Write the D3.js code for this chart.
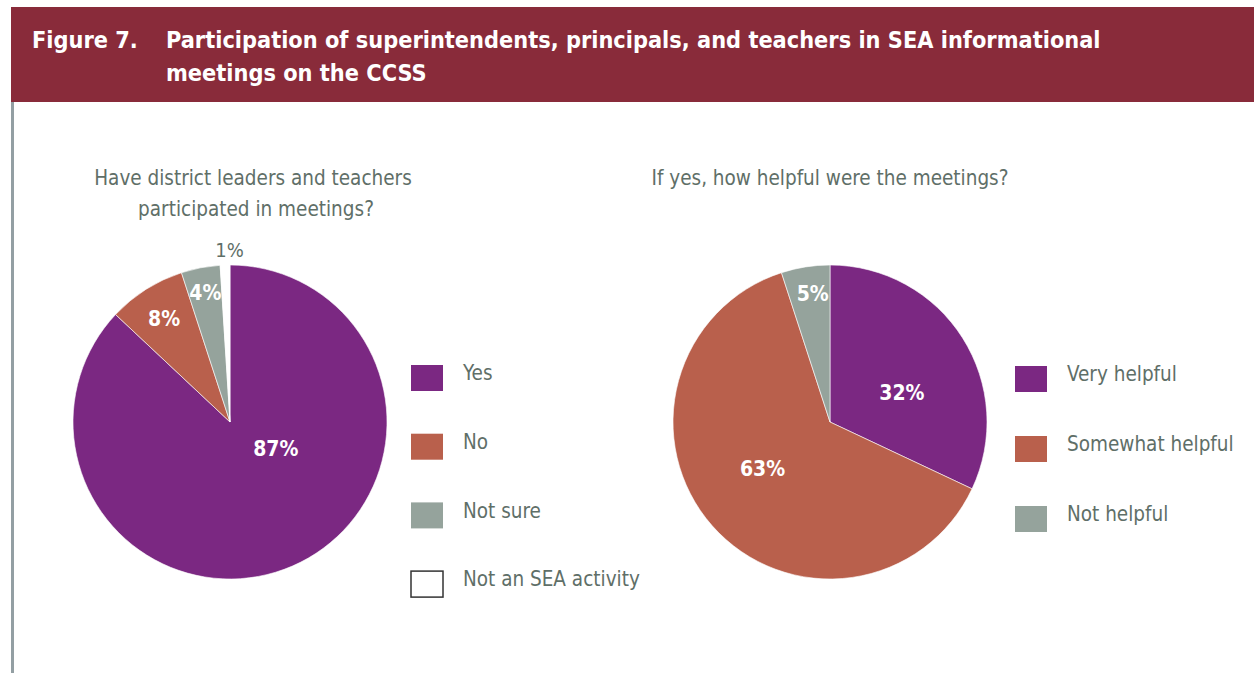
<!DOCTYPE html>
<html>
<head>
<meta charset="utf-8">
<script src="https://cdn.jsdelivr.net/npm/d3@7/dist/d3.min.js"></script>
<style>
  html, body { margin: 0; padding: 0; background: #fff; }
  svg { display: block; }
  text { font-family: "Liberation Sans Narrow", "DejaVu Sans Condensed", "Roboto", "Liberation Sans", sans-serif; }
</style>
</head>
<body>
<svg id="chart" width="1254" height="674"></svg>
<script>
// ---- data ----
const figureNumber = "Figure 7.";
const titleLines = ["Participation of superintendents, principals, and teachers in SEA informational", "meetings on the CCSS"];

const leftQuestion = ["Have district leaders and teachers", "participated in meetings?"];
const leftCategories = ["Yes", "No", "Not sure", "Not an SEA activity"];
const leftValues = [87, 8, 4, 1];

const rightQuestion = ["If yes, how helpful were the meetings?"];
const rightCategories = ["Very helpful", "Somewhat helpful", "Not helpful"];
const rightValues = [32, 63, 5];

// ---- styles ----
const PURPLE = "#7B2882", RUST = "#B9604C", SAGE = "#95A39C", WHITE = "#FFFFFF";
const TEXT = "#5F6F68", HEADER = "#892B3A";
const leftColors = [PURPLE, RUST, SAGE, WHITE];
const rightColors = [PURPLE, RUST, SAGE];
// label placement: radius along mid-angle + small nudge
const leftLabelStyle = [
  {r: 60, dx: 22, dy: -29, fill: "#fff", weight: "bold", size: 21},
  {r: 123, dx: 0, dy: 0, fill: "#fff", weight: "bold", size: 21},
  {r: 132, dx: 0, dy: 0, fill: "#fff", weight: "bold", size: 21},
  {r: 172, dx: 5, dy: 0, fill: TEXT, weight: "normal", size: 20}
];
const rightLabelStyle = [
  {r: 78, dx: 6, dy: 12, fill: "#fff", weight: "bold", size: 21},
  {r: 82, dx: -6, dy: -8, fill: "#fff", weight: "bold", size: 21},
  {r: 130, dx: 3, dy: 0, fill: "#fff", weight: "bold", size: 21}
];

const svg = d3.select("#chart");

// header band
svg.append("rect").attr("x", 11).attr("y", 7).attr("width", 1243).attr("height", 95).attr("fill", HEADER);
svg.append("text").attr("x", 32).attr("y", 48).attr("fill", "#fff")
  .attr("font-size", 23.3).attr("font-weight", "bold").text(figureNumber);
svg.append("g").selectAll("text").data(titleLines).join("text")
  .attr("x", 166).attr("y", (d, i) => 48 + i * 33)
  .attr("fill", "#fff").attr("font-size", 23.3).attr("font-weight", "bold")
  .text(d => d);

// left rule
svg.append("rect").attr("x", 11).attr("y", 102).attr("width", 3).attr("height", 571).attr("fill", "#939FA3");

function drawPie(cx, cy, radius, categories, values, colors, labelStyle, question, qx, legendX, legendY0, legendStep) {
  const g = svg.append("g").attr("transform", `translate(${cx},${cy})`);
  const pie = d3.pie().sort(null).value(d => d.v);
  const data = pie(categories.map((c, i) => ({c, v: values[i], i})));
  const arc = d3.arc().innerRadius(0).outerRadius(radius);

  g.selectAll("path").data(data).join("path")
    .attr("d", arc)
    .attr("fill", d => colors[d.data.i])
    .attr("stroke", "#fff").attr("stroke-width", 0.6);

  g.selectAll("text.pct").data(data).join("text")
    .attr("class", "pct")
    .attr("transform", d => {
      const s = labelStyle[d.data.i];
      const c = d3.arc().innerRadius(s.r).outerRadius(s.r).centroid(d);
      return `translate(${c[0] + s.dx},${c[1] + s.dy})`;
    })
    .attr("text-anchor", "middle").attr("dy", "0.36em")
    .attr("fill", d => labelStyle[d.data.i].fill)
    .attr("font-weight", d => labelStyle[d.data.i].weight)
    .attr("font-size", d => labelStyle[d.data.i].size)
    .text(d => d.data.v + "%");

  // question
  svg.append("g").selectAll("text").data(question).join("text")
    .attr("x", (d, i) => qx + (i === 1 ? 3 : 0)).attr("y", (d, i) => 185 + i * 31)
    .attr("text-anchor", "middle").attr("fill", TEXT).attr("font-size", 20.5)
    .text(d => d);

  // legend
  const ly = d3.scalePoint().domain(categories).range([legendY0, legendY0 + legendStep * (categories.length - 1)]);
  const lg = svg.append("g").selectAll("g").data(categories).join("g")
    .attr("transform", d => `translate(${legendX},${ly(d)})`);
  lg.append("rect").attr("x", 0).attr("y", -13).attr("width", 32).attr("height", 26)
    .attr("fill", (d, i) => colors[i])
    .attr("stroke", (d, i) => colors[i] === WHITE ? "#333" : "none")
    .attr("stroke-width", 1.5);
  lg.append("text").attr("x", 52).attr("y", -5).attr("dy", "0.36em")
    .attr("fill", TEXT).attr("font-size", 20.5).text(d => d);
}

drawPie(230, 422, 157, leftCategories, leftValues, leftColors, leftLabelStyle, leftQuestion, 253, 411, 378, 68.7);
drawPie(830, 422, 157, rightCategories, rightValues, rightColors, rightLabelStyle, rightQuestion, 830, 1015, 379, 70);
</script>
</body>
</html>
